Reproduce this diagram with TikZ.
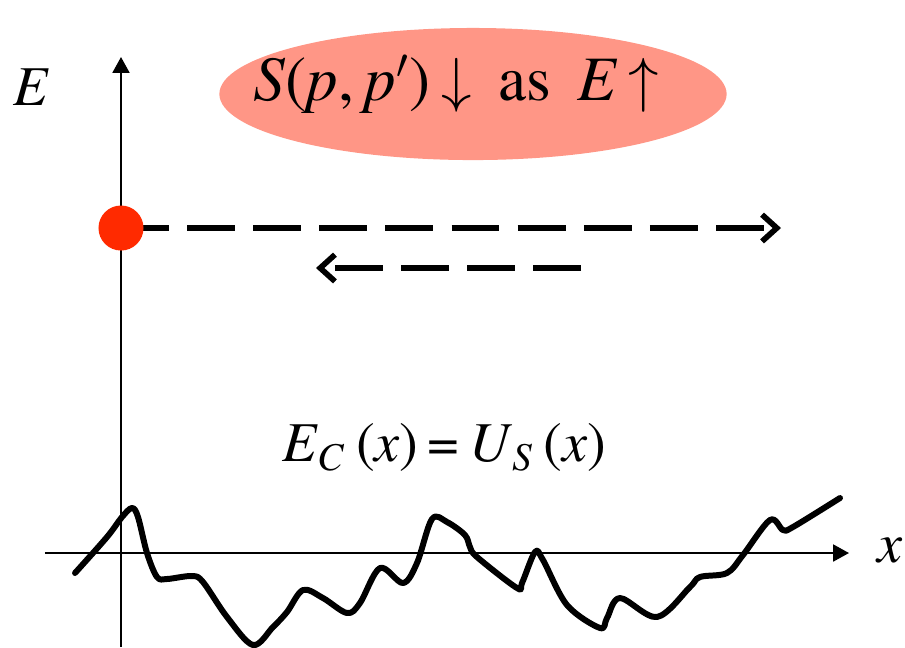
\documentclass[tikz,border=0pt]{standalone}
\usepackage{fontspec}
\setmainfont{texgyretermes}[
    Extension=.otf,
    UprightFont=*-regular,
    ItalicFont=*-italic,
    BoldFont=*-bold,
    BoldItalicFont=*-bolditalic]
\usepackage{tikz}
\usetikzlibrary{shapes.geometric, arrows.meta, positioning, calc}

\definecolor{salmonfill}{RGB}{255,150,134}
\definecolor{dotred}{RGB}{255,42,0}

\begin{document}
\begin{tikzpicture}[
    x=0.01cm, y=-0.01cm,
    axis/.style={-{Triangle[length=4.5pt, width=4.8pt]}, line width=0.6pt},
    bubble/.style={ellipse, fill=salmonfill, minimum width=5.07cm, minimum height=1.32cm, inner sep=0pt},
    state/.style={circle, fill=dotred, minimum size=0.45cm, inner sep=0pt},
    path/.style={dash pattern=on 13.6pt off 5.2pt, line width=1.6pt, -{Straight Barb[length=4.2pt, width=7.6pt, line width=1.6pt]}},
    lbl/.style={font=\fontsize{16}{18}\selectfont, inner sep=0pt},
    wall/.style={line width=1.7pt, line join=round, line cap=round}
]
\useasboundingbox (0,0) rectangle (905,647);

% axes
\coordinate (yb) at (121,647);
\coordinate (yt) at (121,57);
\coordinate (xl) at (45,553);
\coordinate (xr) at (849,553);
\draw[axis] (yb) -- (yt);
\draw[axis] (xl) -- (xr);
\node[lbl] (elab) at (31,87) {\textit{E}};
\node[lbl] (xlab) at (890,550) {\textit{x}};

% top label
\node[bubble] (bub) at (473,94) {};
\node[lbl, font=\fontsize{18}{20}\selectfont] (stxt) at (456,84) {\textit{S}(\textit{p},\,\textit{p}$'$)\,$\downarrow$\, as \,\textit{E}\,$\uparrow$};

% incoming and reflected waves
\coordinate (st) at (121,228);
\coordinate (fw) at (781,228);
\coordinate (bs) at (581,268);
\coordinate (bw) at (316,268);
\draw[path] (st) -- (fw);
\draw[path] (bs) -- (bw);
\node[state] (src) at (st) {};

% potential
\node[lbl] (eqn) at (444,447) {\textit{E}\textsubscript{\textit{C}}\,(\textit{x})\,=\,\textit{U}\textsubscript{\textit{S}}\,(\textit{x})};
\draw[wall] plot[smooth, tension=0.55] coordinates {
    (75,573) (107,537) (122,517) (132,508) (138,517) (147,553) (157,577)
    (167,579) (192,576) (203,582) (227,617) (253,645) (273,627) (287,612)
    (303,590) (323,598) (347,613) (360,603) (380,568) (403,583) (417,563)
    (432,519) (447,522) (465,535) (470,547) (477,557) (517,588) (522,583)
    (535,552) (543,560) (567,605) (600,628) (607,618) (620,598) (657,617)
    (690,587) (700,577) (727,573) (743,555) (770,520) (783,530) (793,527)
    (840,498)};
\end{tikzpicture}
\end{document}
